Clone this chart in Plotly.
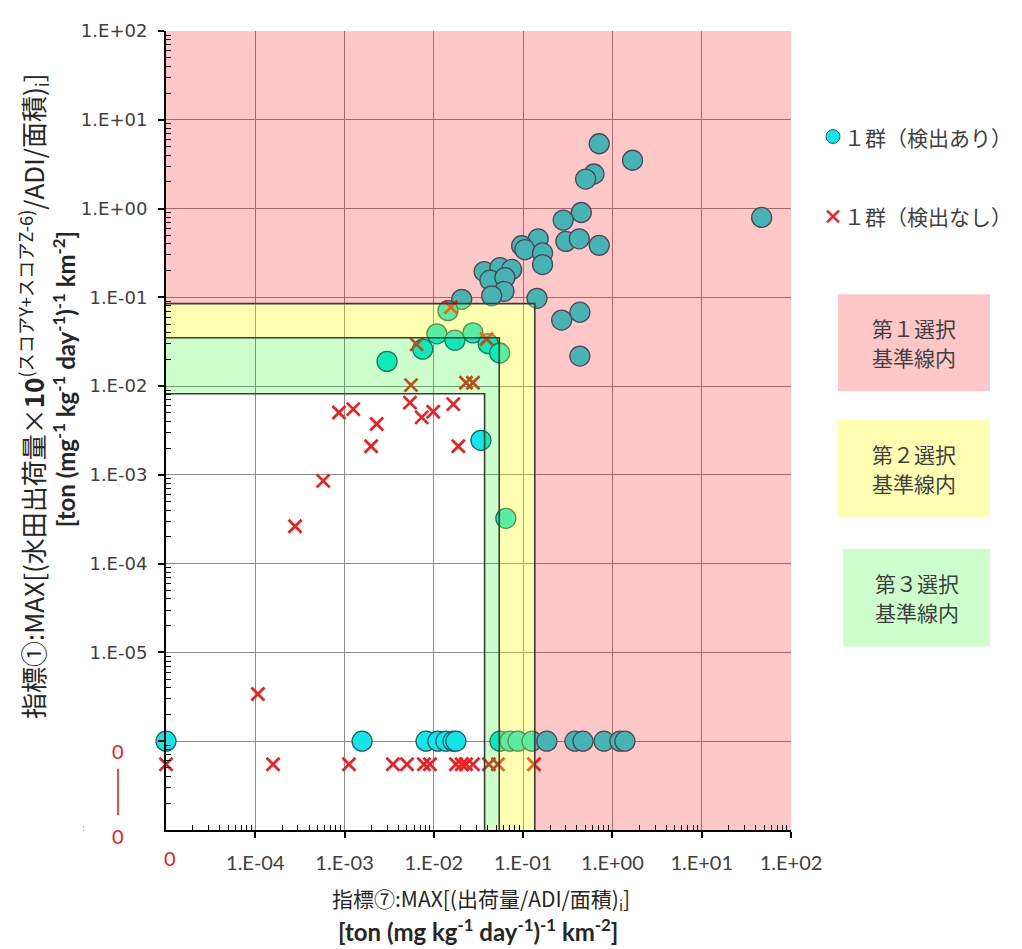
import plotly.graph_objects as go

# ---------------- data ----------------
# 1群(検出あり)  (0 = value of zero, drawn on the "0" row / column)
det_x = [0.711, 1.68, 0.621, 0.501, 0.448, 0.281, 46.9, 0.1475, 0.0962, 0.1047,
         0.165, 0.165, 0.301, 0.425, 0.711, 0.0366, 0.055, 0.0743, 0.0425, 0.0625,
         0.061, 0.0444, 0.143, 0.0205, 0.0144, 0.432, 0.27, 0.432, 0.0108, 0.0172,
         0.0274, 0.0406, 0.0546, 0.0075, 0.00299, 0.0337, 0.064,
         0, 0.00157, 0.00817, 0.0111, 0.01364, 0.01637, 0.01766, 0.055, 0.0711,
         0.0875, 0.1257, 0.1845, 0.38, 0.468, 0.804, 1.213, 1.38]
det_y = [5.37, 3.50, 2.45, 2.15, 0.903, 0.741, 0.794, 0.456, 0.381, 0.344,
         0.316, 0.234, 0.427, 0.456, 0.385, 0.195, 0.216, 0.206, 0.156, 0.167,
         0.117, 0.104, 0.0975, 0.095, 0.0708, 0.068, 0.0555, 0.0218, 0.0388, 0.0329,
         0.0398, 0.0301, 0.0236, 0.0261, 0.019, 0.00245, 0.000324,
         0, 0, 0, 0, 0, 0, 0, 0, 0,
         0, 0, 0, 0, 0, 0, 0, 0]

# 1群(検出なし)
nd_x = [0.0155, 0.00641, 0.039, 0.00555, 0.0229, 0.0274, 0.000865, 0.00125, 0.00229,
        0.00198, 0.0054, 0.0073, 0.00984, 0.0165, 0.0188, 0.000576, 0.000279, 0.000107,
        0, 0.000158, 0.00112, 0.00348, 0.0050, 0.00774, 0.00904, 0.01766, 0.0205,
        0.0229, 0.0274, 0.0414, 0.0522, 0.132]
nd_y = [0.0774, 0.0295, 0.0339, 0.01026, 0.0109, 0.0109, 0.00505, 0.00551, 0.00375,
        0.0021, 0.00652, 0.00445, 0.00514, 0.00626, 0.0021, 0.000857, 0.000264, 3.41e-6,
        0, 0, 0, 0, 0, 0, 0, 0, 0,
        0, 0, 0, 0, 0]

# selection criterion lines (第1, 第2, 第3選択基準線)
crit_x = [0.135, 0.054, 0.037]
crit_y = [0.085, 0.035, 0.0082]

x_tickvals = [1e-4, 1e-3, 1e-2, 1e-1, 1e0, 1e1, 1e2]
x_ticktext = ["1.E-04", "1.E-03", "1.E-02", "1.E-01", "1.E+00", "1.E+01", "1.E+02"]
y_tickvals = [1e2, 1e1, 1e0, 1e-1, 1e-2, 1e-3, 1e-4, 1e-5, 1e-6]
y_ticktext = ["1.E+02", "1.E+01", "1.E+00", "1.E-01", "1.E-02", "1.E-03", "1.E-04", "1.E-05", ""]

# ---------------- layout constants ----------------
XMIN, XMAX = 1e-5, 1e2
YMIN, YMAX = 1e-7, 1e2
ZERO_X = 1e-5        # where x = 0 is drawn
ZERO_Y_DET = 1e-6    # where y = 0 is drawn for detected
ZERO_Y_ND = 5.5e-7   # where y = 0 is drawn for non-detected

def zx(v):
    return [ZERO_X if a == 0 else a for a in v]

def zy(v, z):
    return [z if a == 0 else a for a in v]

OFF = 8                     # page body margin
W, H = 1022 - OFF, 949 - OFF
L, T = 166 - OFF, 20 - OFF
PW, PH = 625, 810
R, B = W - L - PW, H - T - PH

def px(x):
    return (x - OFF - L) / PW

def py(y):
    return (T + PH - (y - OFF)) / PH

fig = go.Figure()

fig.add_trace(go.Scatter(
    x=zx(det_x), y=zy(det_y, ZERO_Y_DET), mode="markers", name="1群(検出あり)",
    marker=dict(symbol="circle", size=20, color="#12E6E8",
                line=dict(color="#1E5A6A", width=1.3)),
    cliponaxis=False, showlegend=False, hoverinfo="skip"))

fig.add_trace(go.Scatter(
    x=zx(nd_x), y=zy(nd_y, ZERO_Y_ND), mode="markers", name="1群(検出なし)",
    marker=dict(symbol="x-thin", size=13, color="#F01E1E",
                line=dict(color="#F01E1E", width=2.7)),
    cliponaxis=False, showlegend=False, hoverinfo="skip"))

cx0, cx1, cx2 = crit_x
cy0, cy1, cy2 = crit_y
regions = [
    ([XMIN, XMAX, XMAX, cx0, cx0, XMIN, XMIN], [YMAX, YMAX, YMIN, YMIN, cy0, cy0, YMAX], "rgba(255,0,0,0.22)"),
    ([XMIN, cx0, cx0, cx1, cx1, XMIN, XMIN], [cy0, cy0, YMIN, YMIN, cy1, cy1, cy0], "rgba(255,255,0,0.30)"),
    ([XMIN, cx1, cx1, cx2, cx2, XMIN, XMIN], [cy1, cy1, YMIN, YMIN, cy2, cy2, cy1], "rgba(0,255,0,0.20)"),
]
for rx, ry, col in regions:
    fig.add_trace(go.Scatter(x=rx, y=ry, mode="lines", fill="toself", fillcolor=col,
                             line=dict(width=0), showlegend=False, hoverinfo="skip"))

bx, by = [], []
for cx, cy in zip(crit_x, crit_y):
    bx += [XMIN, cx, cx, None]
    by += [cy, cy, YMIN, None]
fig.add_trace(go.Scatter(x=bx, y=by, mode="lines", line=dict(color="#3a3a3a", width=1.6),
                         showlegend=False, hoverinfo="skip", connectgaps=False))

x_minor = [m * 10 ** e for e in range(-5, 2) for m in range(2, 10)]
y_minor = [m * 10 ** e for e in range(-7, 2) for m in range(2, 10)]

fig.update_xaxes(
    type="log", range=[-5, 2], tickmode="array", tickvals=x_tickvals, ticktext=x_ticktext,
    showgrid=True, gridcolor="#8a8a8a", gridwidth=1, zeroline=False,
    showline=True, linecolor="black", linewidth=2,
    ticks="outside", ticklen=6, tickwidth=1.5, tickcolor="black",
    ticklabelstandoff=8,
    tickfont=dict(family="Lato", size=20, color="#404040"),
    minor=dict(tickmode="array", tickvals=x_minor, ticks="inside", ticklen=5,
               tickwidth=1.2, tickcolor="black", showgrid=False),
)
fig.update_yaxes(
    type="log", range=[-7, 2], tickmode="array", tickvals=y_tickvals, ticktext=y_ticktext,
    showgrid=True, gridcolor="#8a8a8a", gridwidth=1, zeroline=False,
    showline=True, linecolor="black", linewidth=2,
    ticks="outside", ticklen=6, tickwidth=1.5, tickcolor="black",
    ticklabelstandoff=7,
    tickfont=dict(family="DejaVu Sans", size=18, color="#404040"),
    minor=dict(tickmode="array", tickvals=y_minor, ticks="inside", ticklen=5,
               tickwidth=1.2, tickcolor="black", showgrid=False),
)

RED = "#E8201E"
ann = []
shapes = []
# red zero labels
ann.append(dict(xref="paper", yref="paper", x=px(170), y=py(858), text="0", showarrow=False,
                font=dict(family="Lato", size=20, color=RED), xanchor="center", yanchor="middle"))
ann.append(dict(xref="paper", yref="paper", x=px(118), y=py(750), text="0", showarrow=False,
                font=dict(family="Lato", size=20, color=RED), xanchor="center", yanchor="middle"))
ann.append(dict(xref="paper", yref="paper", x=px(118), y=py(836), text="0", showarrow=False,
                font=dict(family="Lato", size=20, color=RED), xanchor="center", yanchor="middle"))
shapes.append(dict(type="line", xref="paper", yref="paper", x0=px(118), x1=px(118),
                   y0=py(768), y1=py(815), line=dict(color=RED, width=1.6)))
ann.append(dict(xref="paper", yref="paper", x=px(83), y=py(828), text=":", showarrow=False,
                font=dict(family="DejaVu Sans", size=9, color="#888888"), xanchor="center", yanchor="middle"))

# axis titles
ann.append(dict(xref="paper", yref="paper", x=px(481), y=py(900),
                text="指標⑦:MAX[(出荷量/ADI/面積)<sub>i</sub>]", showarrow=False,
                font=dict(family="Noto Sans CJK JP", size=21, color="#262626"),
                xanchor="center", yanchor="middle"))
ann.append(dict(xref="paper", yref="paper", x=px(478), y=py(931),
                text="<b>[ton (mg kg<sup>-1</sup> day<sup>-1</sup>)<sup>-1</sup> km<sup>-2</sup>]</b>",
                showarrow=False, font=dict(family="Lato", size=24, color="#262626"),
                xanchor="center", yanchor="middle"))
ann.append(dict(xref="paper", yref="paper", x=px(33), y=py(390), textangle=-90,
                text="指標①:MAX[(水田出荷量×<b>10</b><sup>(スコアY+スコアZ-6)</sup>/ADI/面積)<sub>i</sub>]",
                showarrow=False, font=dict(family="Noto Sans CJK JP", size=26, color="#262626"),
                xanchor="center", yanchor="middle"))
ann.append(dict(xref="paper", yref="paper", x=px(64), y=py(373), textangle=-90,
                text="<b>[ton (mg<sup>-1</sup> kg<sup>-1</sup> day<sup>-1</sup>)<sup>-1</sup> km<sup>-2</sup>]</b>",
                showarrow=False, font=dict(family="Lato", size=24, color="#262626"),
                xanchor="center", yanchor="middle"))

# legend (custom)
r = 7
shapes.append(dict(type="circle", xref="paper", yref="paper",
                   x0=px(833 - r), x1=px(833 + r), y0=py(127 + r), y1=py(127 - r),
                   fillcolor="#12E6E8", line=dict(color="#1E5A6A", width=1)))
c = 6
shapes.append(dict(type="line", xref="paper", yref="paper", x0=px(833 - c), x1=px(833 + c),
                   y0=py(208 - c), y1=py(208 + c), line=dict(color="#F01E1E", width=2.4)))
shapes.append(dict(type="line", xref="paper", yref="paper", x0=px(833 - c), x1=px(833 + c),
                   y0=py(208 + c), y1=py(208 - c), line=dict(color="#F01E1E", width=2.4)))
ann.append(dict(xref="paper", yref="paper", x=px(842), y=py(127), text="１群（検出あり）",
                showarrow=False, font=dict(family="Noto Sans CJK JP", size=21, color="#404040"),
                xanchor="left", yanchor="middle"))
ann.append(dict(xref="paper", yref="paper", x=px(842), y=py(208), text="１群（検出なし）",
                showarrow=False, font=dict(family="Noto Sans CJK JP", size=21, color="#404040"),
                xanchor="left", yanchor="middle"))

boxes = [
    (838, 990, 287, 385, "#FFC7C7", "第１選択", "基準線内"),
    (838, 990, 414, 513, "#FFFFB3", "第２選択", "基準線内"),
    (843, 990, 545, 644, "#CCFFCC", "第３選択", "基準線内"),
]
for x0, x1, y0, y1, col, t1, t2 in boxes:
    shapes.append(dict(type="rect", xref="paper", yref="paper", x0=px(x0), x1=px(x1),
                       y0=py(y1), y1=py(y0), fillcolor=col, line=dict(width=0)))
    yc = (y0 + y1) / 2
    for txt, dy in ((t1, -14.5), (t2, 14.5)):
        ann.append(dict(xref="paper", yref="paper", x=px((x0 + x1) / 2), y=py(yc + dy),
                        text=txt, showarrow=False,
                        font=dict(family="Noto Sans CJK JP", size=21, color="#404040"),
                        xanchor="center", yanchor="middle"))

fig.update_layout(
    width=W, height=H, autosize=False,
    margin=dict(l=L, r=R, t=T, b=B, pad=0),
    paper_bgcolor="white", plot_bgcolor="white",
    font=dict(family="Noto Sans CJK JP"),
    showlegend=False, hovermode=False,
    annotations=ann, shapes=shapes,
)

fig.write_html("out.html")
